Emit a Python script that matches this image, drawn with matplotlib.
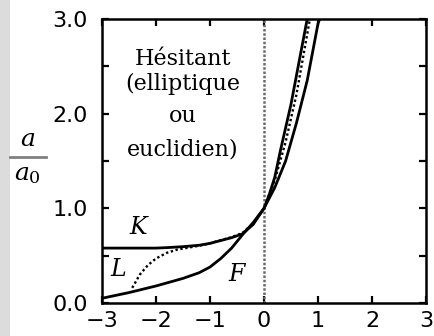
import matplotlib
matplotlib.use("Agg")
import matplotlib.pyplot as plt
from matplotlib.patches import Rectangle
from matplotlib.lines import Line2D

# Scale factor a/a0 against time for three cosmological models
t_K = [-3.0, -2.0, -1.8, -1.5, -1.2, -1.0, -0.8, -0.6, -0.4, -0.2, 0.0,
       0.1, 0.2, 0.3, 0.4, 0.5, 0.6, 0.7, 0.8]
a_K = [0.58, 0.58, 0.585, 0.595, 0.61, 0.63, 0.66, 0.69, 0.73, 0.83, 1.0,
       1.15, 1.33, 1.6, 1.85, 2.1, 2.4, 2.7, 3.0]

t_L = [-2.44, -2.3, -2.15, -2.0, -1.8, -1.6, -1.4, -1.2, -1.0, -0.8, -0.6,
       -0.4, -0.2, 0.0, 0.2, 0.4, 0.6, 0.85]
a_L = [0.16, 0.30, 0.40, 0.47, 0.53, 0.565, 0.585, 0.605, 0.63, 0.665, 0.695,
       0.74, 0.84, 1.0, 1.3, 1.7, 2.2, 3.0]

t_F = [-3.0, -2.5, -2.0, -1.5, -1.2, -1.0, -0.8, -0.6, -0.4, -0.2, 0.0,
       0.2, 0.4, 0.6, 0.8, 1.0, 1.03]
a_F = [0.05, 0.11, 0.18, 0.26, 0.32, 0.38, 0.47, 0.58, 0.72, 0.85, 1.0,
       1.22, 1.5, 1.9, 2.35, 2.95, 3.0]

x_ticks = [-3, -2, -1, 0, 1, 2, 3]
x_labels = ["\u22123", "\u22122", "\u22121", "0", "1", "2", "3"]
y_ticks = [0.0, 0.5, 1.0, 1.5, 2.0, 2.5, 3.0]
y_labels = ["0.0", "", "1.0", "", "2.0", "", "3.0"]

note_lines = ["Hésitant", "(elliptique", "ou", "euclidien)"]

W, H = 434, 336
fig = plt.figure(figsize=(W / 100, H / 100), dpi=100)
fig.patch.set_facecolor("white")

# grey strip on the left edge
fig.patches.append(Rectangle((0, 0), 10 / W, 1, transform=fig.transFigure,
                             facecolor="#dcdcdc", edgecolor="none", zorder=0))

ax = fig.add_axes([102 / W, 33 / H, 324 / W, 284 / H])
ax.set_xlim(-3, 3)
ax.set_ylim(0, 3)

serif = "DejaVu Serif"
sans = "DejaVu Sans"

ax.plot(t_K, a_K, color="black", lw=2.0, solid_capstyle="butt", zorder=3)
ax.plot(t_F, a_F, color="black", lw=2.0, solid_capstyle="butt", zorder=3)
ax.plot(t_L, a_L, color="black", lw=1.7, linestyle=(0, (1, 1.1)), zorder=3)

ax.axvline(0, color="#6a6a6a", lw=1.8, linestyle=(0, (1.0, 0.7)), zorder=2)

for sp in ax.spines.values():
    sp.set_linewidth(1.8)

ax.set_xticks(x_ticks)
ax.set_xticklabels(x_labels, fontsize=16, family=sans)
ax.set_yticks(y_ticks)
ax.set_yticklabels(y_labels, fontsize=16, family=sans)
ax.tick_params(direction="in", length=5, width=1.6, top=True, right=True,
               pad=6)
ax.tick_params(axis="y", pad=10)

# curve labels
ax.text(-2.33, 0.80, "K", fontsize=17, family=serif, style="italic",
        ha="center", va="center")
ax.text(-2.70, 0.35, "L", fontsize=17, family=serif, style="italic",
        ha="center", va="center")
ax.text(-0.50, 0.30, "F", fontsize=17, family=serif, style="italic",
        ha="center", va="center")

for line, yb in zip(note_lines, [2.51, 2.25, 1.91, 1.56]):
    ax.text(-1.5, yb, line, fontsize=16, family=serif, ha="center",
            va="baseline")

# y-axis label drawn as a fraction a / a0
fig.text(28 / W, 1 - 139 / H, "$a$", fontsize=18, ha="center", va="center",
         math_fontfamily="dejavuserif")
fig.add_artist(Line2D([10 / W, 46 / W], [1 - 157 / H, 1 - 157 / H],
                      transform=fig.transFigure, color="#808080", lw=2))
fig.text(27 / W, 1 - 174 / H, "$a_0$", fontsize=18, ha="center",
         va="center", math_fontfamily="dejavuserif")

fig.savefig("out.png", dpi=100)
